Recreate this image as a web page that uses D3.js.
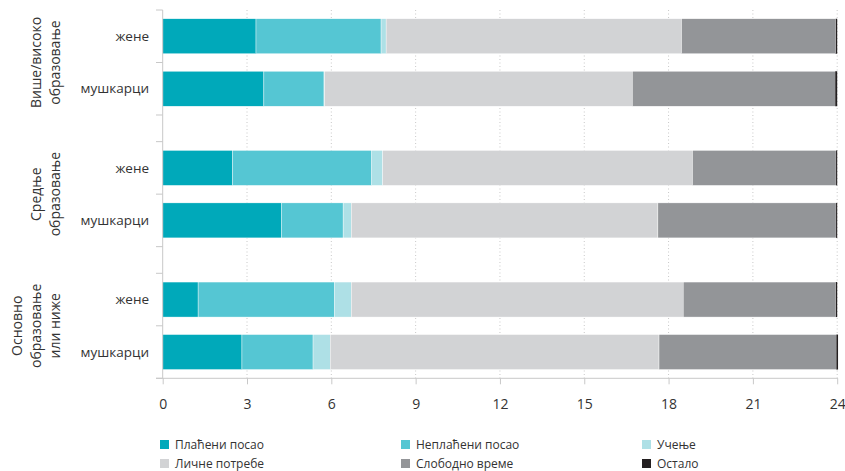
<!DOCTYPE html>
<html><head><meta charset="utf-8">
<script src="https://cdn.jsdelivr.net/npm/d3@7"></script>
<style>
body{margin:0;background:#fff;}
text{font-family:"Open Sans","Noto Sans",sans-serif;}
</style></head>
<body><svg id="c" width="845" height="471"></svg>
<script>
const groups = [["Више/високо","образовање"],["Средње","образовање"],["Основно","образовање","или ниже"]];
const groupKeys = ["g1","g2","g3"];
const sexes = ["жене","мушкарци"];
const seriesNames = ["Плаћени посао","Неплаћени посао","Учење","Личне потребе","Слободно време","Остало"];
const colors = ["#00a9ba","#55c6d3","#aee0e6","#d2d3d5","#939598","#231f20"];
// rows: group, sex
const paid     = [3.32, 3.60, 2.48, 4.22, 1.26, 2.82];
const unpaid   = [4.45, 2.14, 4.96, 2.20, 4.86, 2.53];
const learning = [0.18, 0.02, 0.39, 0.29, 0.59, 0.61];
const personal = [10.51,10.95,11.02,10.91,11.81,11.70];
const free     = [5.49, 7.22, 5.11, 6.34, 5.43, 6.31];
const other    = [0.05, 0.07, 0.04, 0.04, 0.05, 0.06];
const xTicks = [0,3,6,9,12,15,18,21,24];

const series = [paid,unpaid,learning,personal,free,other];
const rows = [];
groupKeys.forEach((g,gi)=>sexes.forEach((s,si)=>{
  const i = gi*2+si;
  const r = {group:g, sex:s};
  series.forEach((arr,k)=>r[k]=arr[i]);
  rows.push(r);
}));

const svg = d3.select("#c");
const x = d3.scaleLinear().domain([0,24]).range([162.7,837.2]);
const yG = d3.scaleBand().domain(groupKeys).range([10,378.3]).paddingInner(0.2025).paddingOuter(0);
const yS = d3.scaleBand().domain(sexes).range([0,yG.bandwidth()]).paddingInner(1/3).paddingOuter(1/6);

// gridlines
svg.append("g").selectAll("line").data(xTicks.filter(d=>d>0)).join("line")
  .attr("x1",d=>x(d)).attr("x2",d=>x(d)).attr("y1",10).attr("y2",378.3)
  .attr("stroke","#c8c8c8").attr("stroke-width",1).attr("stroke-dasharray","1,2.5");

// bars
const stack = d3.stack().keys(d3.range(6))(rows);
const gb = svg.append("g");
stack.forEach((layer,k)=>{
  gb.append("g").attr("fill",colors[k]).selectAll("rect").data(layer).join("rect")
    .attr("x",d=>x(d[0])).attr("width",d=>Math.max(0,x(d[1])-x(d[0])))
    .attr("y",d=>yG(d.data.group)+yS(d.data.sex)).attr("height",yS.bandwidth())
    .attr("stroke", k===5?"none":"#ffffff").attr("stroke-width",0.4);
});

// x axis
const xa = svg.append("g").attr("transform","translate(0,378.3)")
  .call(d3.axisBottom(x).tickValues(xTicks).tickSize(6).tickPadding(15).tickFormat(d3.format("d")));
xa.select(".domain").attr("d","M156,0H838").attr("stroke","#c8c8c8");
xa.selectAll(".tick line").attr("stroke","#c8c8c8");
xa.selectAll(".tick text").attr("fill","#333").style("font-size","14px");

// y axis line and ticks
svg.append("line").attr("x1",162.7).attr("x2",162.7).attr("y1",10).attr("y2",378.3).attr("stroke","#c8c8c8");
const yTickPos = [];
groupKeys.forEach(g=>{ yTickPos.push(yG(g), yG(g)+yG.bandwidth()/2, yG(g)+yG.bandwidth()); });
svg.append("g").selectAll("line").data(yTickPos).join("line")
  .attr("x1",156).attr("x2",162.7).attr("y1",d=>d).attr("y2",d=>d).attr("stroke","#c8c8c8");

// category labels
svg.append("g").selectAll("text").data(rows).join("text")
  .attr("x",149).attr("y",d=>yG(d.group)+yS(d.sex)+yS.bandwidth()/2)
  .attr("dy","0.35em").attr("text-anchor","end").attr("fill","#333").style("font-size","13.5px")
  .text(d=>d.sex);

// group labels (rotated)
groupKeys.forEach((g,gi)=>{
  const lines = groups[gi];
  const cy = yG(g)+yG.bandwidth()/2;
  lines.forEach((t,li)=>{
    const cx = 55 - (lines.length-1-li)*19;
    svg.append("text").attr("transform",`translate(${cx},${cy}) rotate(-90)`)
      .attr("text-anchor","middle").attr("dy","0.35em").attr("fill","#333")
      .style("font-size","14px").text(t);
  });
});

// legend
const legX = [160,401,642], legY = [445,464];
const lg = svg.append("g").selectAll("g").data(seriesNames).join("g")
  .attr("transform",(d,i)=>`translate(${legX[i%3]},${legY[Math.floor(i/3)]})`);
lg.append("rect").attr("x",0).attr("y",-5).attr("width",9).attr("height",9).attr("fill",(d,i)=>colors[i]);
lg.append("text").attr("x",15).attr("y",0).attr("dy","0.35em").attr("fill","#333").style("font-size","12px").text(d=>d);
</script></body></html>
